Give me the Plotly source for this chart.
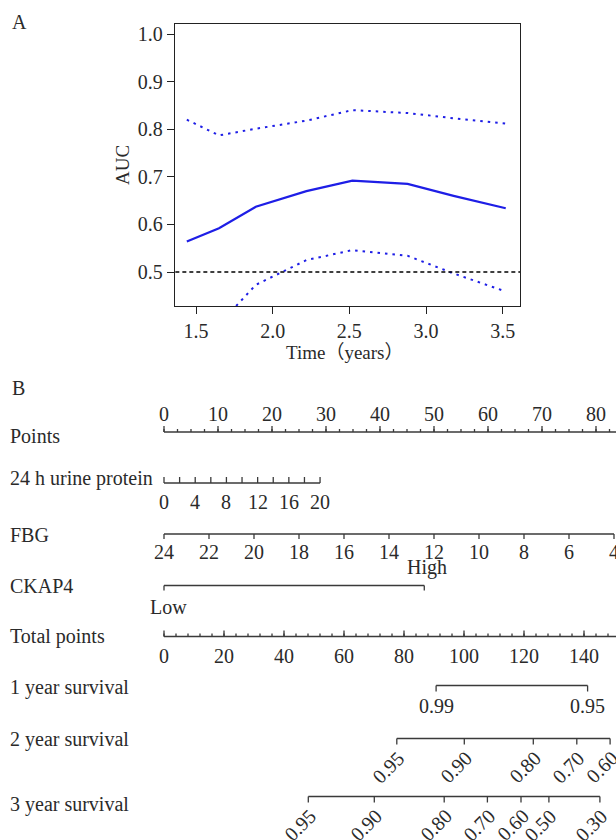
import plotly.graph_objects as go

# ---------------- Panel A data ----------------
time_years = [1.44, 1.65, 1.89, 2.22, 2.52, 2.88, 3.18, 3.52]
auc = [0.564, 0.592, 0.637, 0.670, 0.692, 0.685, 0.660, 0.634]
auc_upper = [0.820, 0.787, 0.801, 0.818, 0.840, 0.834, 0.823, 0.812]
auc_lower = [0.31, 0.39, 0.473, 0.525, 0.546, 0.534, 0.497, 0.459]
auc_ref = 0.5
a_xticks = [1.5, 2.0, 2.5, 3.0, 3.5]
a_yticks = [0.5, 0.6, 0.7, 0.8, 0.9, 1.0]

# ---------------- Panel B data (nomogram) ----------------
row_names = ["Points", "24 h urine protein", "FBG", "CKAP4", "Total points",
             "1 year survival", "2 year survival", "3 year survival"]
points_major = [0, 10, 20, 30, 40, 50, 60, 70, 80, 90, 100]
points_minor = [i * 2.5 for i in range(41)]
urine_ticks = [0, 2, 4, 6, 8, 10, 12, 14, 16, 18, 20]
urine_labels = [0, 4, 8, 12, 16, 20]
urine_max_points = 28.9          # points at 20
fbg_ticks = [24, 22, 20, 18, 16, 14, 12, 10, 8, 6, 4]
fbg_points_per_unit = 4.1667
ckap4_levels = ["Low", "High"]
ckap4_points = [0, 48.2]
total_major = [0, 20, 40, 60, 80, 100, 120, 140, 160, 180]
total_minor = [i * 4 for i in range(46)]
total_per_point = 1.8            # total points per nomogram point
surv1_labels = ["0.99", "0.95"]
surv1_total = [90.7, 141.2]
surv2_labels = ["0.95", "0.90", "0.80", "0.70", "0.60"]
surv2_total = [77.6, 100.1, 123.1, 137.6, 148.7]
surv3_labels = ["0.95", "0.90", "0.80", "0.70", "0.60", "0.50", "0.30"]
surv3_total = [48.1, 70.1, 93.4, 107.8, 119.0, 128.3, 145.3]

W, H = 616, 840
FONT = "Liberation Serif, Times New Roman, Noto Sans CJK SC, serif"
TXT = "#2a2a2a"
LINE = "#3a3a3a"
BLUE = "#1e1ee6"

fig = go.Figure()

# ---------------- Panel A ----------------
fig.add_trace(go.Scatter(x=time_years, y=auc, mode="lines",
                         line=dict(color=BLUE, width=2.2), xaxis="x", yaxis="y",
                         showlegend=False, hoverinfo="skip"))
for ci in (auc_upper, auc_lower):
    fig.add_trace(go.Scatter(x=time_years, y=ci, mode="lines",
                             line=dict(color=BLUE, width=2, dash="2.5px,5px"),
                             xaxis="x", yaxis="y", showlegend=False, hoverinfo="skip"))
fig.add_trace(go.Scatter(x=[1.0, 4.0], y=[auc_ref, auc_ref], mode="lines",
                         line=dict(color="black", width=1.3, dash="4px,3px"),
                         xaxis="x", yaxis="y", showlegend=False, hoverinfo="skip"))

# ---------------- Panel B helpers ----------------
B_SCALE = 5.4      # px per point
B_X0 = 164         # px of 0 points
xr2 = [-B_X0 / B_SCALE, (W - B_X0) / B_SCALE]


def seg_trace(xs, y0, length, width=1.3):
    X, Y = [], []
    for x in xs:
        X += [x, x, None]
        Y += [y0, y0 + length, None]
    return go.Scatter(x=X, y=Y, mode="lines", line=dict(color=LINE, width=width),
                      xaxis="x2", yaxis="y2", showlegend=False, hoverinfo="skip")


def axis_line(x0, x1, y, width=1.6):
    return go.Scatter(x=[x0, x1], y=[y, y], mode="lines", line=dict(color=LINE, width=width),
                      xaxis="x2", yaxis="y2", showlegend=False, hoverinfo="skip")


ann = []


def label(x, y, text, xref="x2", yref="y2", size=20, xanchor="center", yanchor="middle",
          angle=0, xshift=0, yshift=0, color=TXT):
    ann.append(dict(x=x, y=y, xref=xref, yref=yref, text=text, showarrow=False,
                    font=dict(family=FONT, size=size, color=color),
                    xanchor=xanchor, yanchor=yanchor, textangle=angle,
                    xshift=xshift, yshift=yshift))


# Row y positions (pixel units on y2)
Y_POINTS, Y_URINE, Y_FBG, Y_CKAP, Y_TOTAL, Y_S1, Y_S2, Y_S3 = 432, 483, 534, 585.5, 636.5, 685.5, 738.5, 796.5
row_label_y = [436, 478, 535, 586, 636, 687, 739, 804]

# Points axis
fig.add_trace(axis_line(0, 100, Y_POINTS))
fig.add_trace(seg_trace(points_major, Y_POINTS, -6))
fig.add_trace(seg_trace(points_minor, Y_POINTS, -3))
for p in points_major:
    label(p, Y_POINTS - 18, str(p))

# Urine protein
urine_pts = [v * urine_max_points / 20 for v in urine_ticks]
fig.add_trace(axis_line(0, urine_max_points, Y_URINE))
fig.add_trace(seg_trace(urine_pts, Y_URINE, -6))
for v in urine_labels:
    label(v * urine_max_points / 20, Y_URINE + 19, str(v))

# FBG
fbg_pts = [(24 - v) * fbg_points_per_unit for v in fbg_ticks]
fig.add_trace(axis_line(0, max(fbg_pts), Y_FBG))
fig.add_trace(seg_trace(fbg_pts, Y_FBG, 5))
for v, p in zip(fbg_ticks, fbg_pts):
    label(p, Y_FBG + 18, str(v))

# CKAP4
fig.add_trace(axis_line(ckap4_points[0], ckap4_points[1], Y_CKAP))
fig.add_trace(seg_trace(ckap4_points, Y_CKAP, 5))
label(ckap4_points[0], Y_CKAP + 21, ckap4_levels[0], xshift=4)
label(ckap4_points[1], Y_CKAP - 18, ckap4_levels[1], xshift=3)

# Total points
tot_major_pts = [t / total_per_point for t in total_major]
tot_minor_pts = [t / total_per_point for t in total_minor]
fig.add_trace(axis_line(0, 180 / total_per_point, Y_TOTAL))
fig.add_trace(seg_trace(tot_major_pts, Y_TOTAL, -6))
fig.add_trace(seg_trace(tot_minor_pts, Y_TOTAL, -3))
for t, p in zip(total_major, tot_major_pts):
    label(p, Y_TOTAL + 19, str(t))

# Survival axes
for labs, tots, yv, rot in ((surv1_labels, surv1_total, Y_S1, False),
                            (surv2_labels, surv2_total, Y_S2, True),
                            (surv3_labels, surv3_total, Y_S3, True)):
    pts = [t / total_per_point for t in tots]
    fig.add_trace(axis_line(min(pts), max(pts), yv))
    fig.add_trace(seg_trace(pts, yv, 6))
    for lab, p in zip(labs, pts):
        if rot:
            label(p, yv + 6, lab, angle=-45, xanchor="right", yanchor="top", xshift=15)
        else:
            label(p, yv + 20, lab)

# Row labels
for name, yv in zip(row_names, row_label_y):
    label(8 / W, yv, name, xref="paper", xanchor="left")

# Panel labels and axis titles of panel A (paper coords)
label(10 / W, 1 - 22 / H, "A", xref="paper", yref="paper", xanchor="left")
label(10 / W, 1 - 388 / H, "B", xref="paper", yref="paper", xanchor="left")
label(123 / W, 1 - 165 / H, "AUC", xref="paper", yref="paper", angle=-90, size=19)
label(345 / W, 1 - 352 / H, "Time（years）", xref="paper", yref="paper", size=19)

axA = dict(showline=True, linecolor="#222", linewidth=1.3, mirror=True, ticks="outside",
           ticklen=7, tickwidth=1.3, tickcolor="#222", showgrid=False, zeroline=False,
           tickfont=dict(family=FONT, size=20, color=TXT), tickformat=".1f")

fig.update_layout(
    width=W, height=H, margin=dict(l=0, r=0, t=0, b=0),
    paper_bgcolor="white", plot_bgcolor="rgba(0,0,0,0)",
    xaxis=dict(domain=[175 / W, 520 / W], range=[1.363, 3.613], tickvals=a_xticks,
               anchor="y", **axA),
    yaxis=dict(domain=[1 - 306 / H, 1 - 24 / H], range=[0.4286, 1.021], tickvals=a_yticks,
               anchor="x", **axA),
    xaxis2=dict(domain=[0, 1], range=xr2, visible=False, anchor="y2"),
    yaxis2=dict(domain=[0, 1 - 370 / H], range=[H, 370], visible=False, anchor="x2"),
    annotations=ann,
    showlegend=False,
)

fig.write_html("out.html", config={"displayModeBar": False},
               post_script="document.body.style.margin='0';document.body.style.overflow='hidden';")
